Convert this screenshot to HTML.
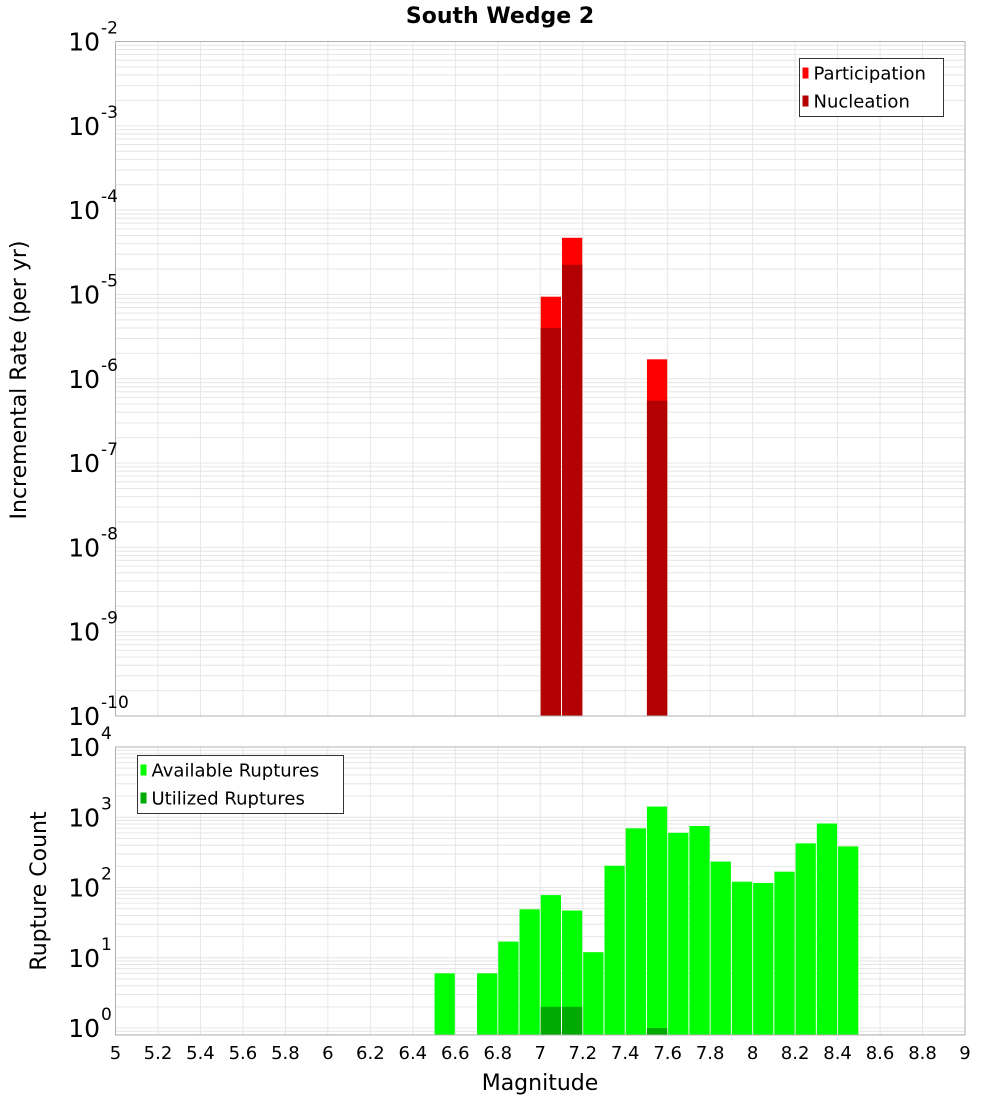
<!DOCTYPE html>
<html><head><meta charset="utf-8"><style>
body{margin:0;background:#fff}
svg{display:block;font-family:"DejaVu Sans","Liberation Sans",sans-serif}
</style></head><body>
<svg id="c" width="1000" height="1100" viewBox="0 0 1000 1100"></svg>
<script>
// data
var topDecades = [-2,-3,-4,-5,-6,-7,-8,-9,-10];
var botDecades = [4,3,2,1,0];
var xTicks = ["5","5.2","5.4","5.6","5.8","6","6.2","6.4","6.6","6.8","7","7.2","7.4","7.6","7.8","8","8.2","8.4","8.6","8.8","9"];
var rateMags = [7.05, 7.15, 7.55];
var participation = [9.4e-6, 4.7e-5, 1.7e-6];
var nucleation = [4.0e-6, 2.25e-5, 5.5e-7];
var countMags = [6.55,6.75,6.85,6.95,7.05,7.15,7.25,7.35,7.45,7.55,7.65,7.75,7.85,7.95,8.05,8.15,8.25,8.35,8.45];
var available = [6,6,17,49,78,47,12,204,695,1420,600,750,234,121,116,168,425,815,385];
var utilMags = [7.05,7.15,7.55];
var utilized = [2,2,1];

var NS="http://www.w3.org/2000/svg", svg=document.getElementById('c');
function el(t,a,p){var e=document.createElementNS(NS,t);for(var k in a)e.setAttribute(k,a[k]);(p||svg).appendChild(e);return e;}
var X0=115.5,X1=965;
function x(m){return X0+(m-5)/4*(X1-X0);}
var T0=41.5,T1=716;
function yt(v){return T0+(-2-Math.log10(v))/8*(T1-T0);}
var B0=747,B1=1035,dec=70.25;
function yb(v){return 1028-Math.log10(v)*dec;}

function grid(y0,y1,yf,dmin,dmax){
  var g=el('g',{});
  
  
  for(var d=dmin;d<dmax;d++)for(var k=1;k<10;k++){var yy=yf(k*Math.pow(10,d));if(yy<y0||yy>y1)continue;
    el('line',{x1:X0,x2:X1,y1:yy,y2:yy,stroke:'#e6e6e6','stroke-width':1},g);}
  for(var i=0;i<xTicks.length;i++){var xx=x(5+i*0.2);el('line',{x1:xx,x2:xx,y1:y0,y2:y1,stroke:'#e6e6e6','stroke-width':1},g);}
}
grid(T0,T1,yt,-10,-2);
grid(B0,B1,yb,-1,4);

// top bars
var w=4/ (X1-X0);
function bar(m,top,bottom,fill,name){
  var r=el('rect',{x:x(m-0.05)+0.5,y:top,width:x(m+0.05)-x(m-0.05)-1,height:bottom-top,fill:fill});
  
  
}
for(var i=0;i<rateMags.length;i++){
  bar(rateMags[i],yt(participation[i]),T1,'#ff0000','participation-bar');
  bar(rateMags[i],yt(nucleation[i]),T1,'#b30000','nucleation-bar');
}
for(var i=0;i<countMags.length;i++) bar(countMags[i],yb(available[i]),B1,'#00ff00','available-bar');
for(var i=0;i<utilMags.length;i++) bar(utilMags[i],yb(utilized[i]),B1,'#00aa00','utilized-bar');

// frames
el('rect',{x:X0,y:T0,width:X1-X0,height:T1-T0,fill:'none',stroke:'#b0b0b0'});
el('rect',{x:X0,y:B0,width:X1-X0,height:B1-B0,fill:'none',stroke:'#b0b0b0'});

function ylab(yy,d){
  var t=el('text',{x:100,y:yy+9,'font-size':25,'text-anchor':'end',fill:'#000'});t.textContent='10';
  
  var s=el('text',{x:101,y:yy-8,'font-size':17,fill:'#000'});s.textContent=String(d);
}
topDecades.forEach(function(d){ylab(yt(Math.pow(10,d)),d);});
botDecades.forEach(function(d){ylab(yb(Math.pow(10,d)),d);});
xTicks.forEach(function(l,i){var t=el('text',{x:x(5+i*0.2),y:1059,'font-size':18,'text-anchor':'middle',fill:'#000'});t.textContent=l;
  });

var tt=el('text',{x:500,y:23,'font-size':22,'font-weight':'bold','text-anchor':'middle'});tt.textContent='South Wedge 2';

var xl=el('text',{x:540,y:1090,'font-size':22,'text-anchor':'middle'});xl.textContent='Magnitude';

var y1=el('text',{x:0,y:0,'font-size':22,'text-anchor':'middle',transform:'translate(26,380) rotate(-90)'});y1.textContent='Incremental Rate (per yr)';

var y2=el('text',{x:0,y:0,'font-size':22,'text-anchor':'middle',transform:'translate(46,891) rotate(-90)'});y2.textContent='Rupture Count';


function legend(bx,by,bw,items){
  var g=el('g',{});
  el('rect',{x:bx,y:by,width:bw,height:58,fill:'#fff',stroke:'#333'},g);
  items.forEach(function(it,i){
    el('rect',{x:bx+3,y:by+9+i*28,width:6,height:11,fill:it[1]},g);
    var t=el('text',{x:bx+14,y:by+21+i*28,'font-size':18},g);t.textContent=it[0];
    
  });
}
legend(799.5,58.5,144,[['Participation','#ff0000'],['Nucleation','#b30000']]);
legend(137.5,755.5,206,[['Available Ruptures','#00ff00'],['Utilized Ruptures','#00aa00']]);
</script>
</body></html>
